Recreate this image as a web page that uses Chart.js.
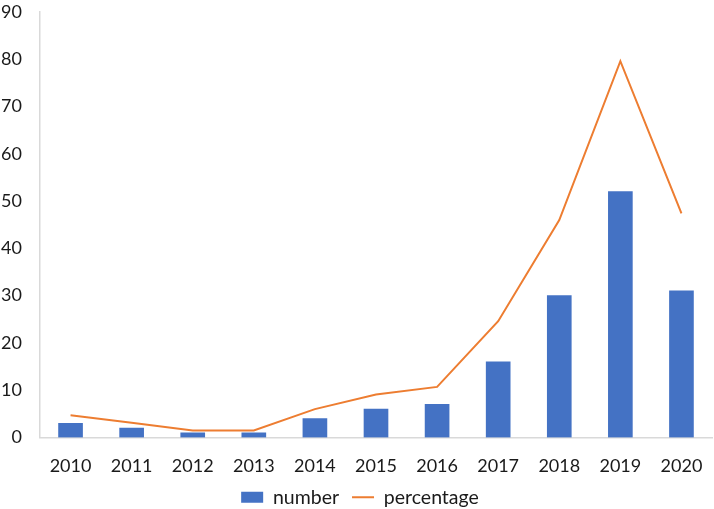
<!DOCTYPE html>
<html>
<head>
<meta charset="utf-8">
<script src="https://cdn.jsdelivr.net/npm/chart.js@4"></script>
<style>
  html, body { margin: 0; padding: 0; background: #fff; }
  #wrap { width: 714px; height: 509px; }
</style>
</head>
<body>
<div id="wrap"><canvas id="chart"></canvas></div>
<script>
    // Chart data
    const years = ['2010', '2011', '2012', '2013', '2014', '2015', '2016', '2017', '2018', '2019', '2020'];
    const numberValues = [3, 2, 1, 1, 4, 6, 7, 16, 30, 52, 31];
    const percentageValues = [4.7, 3.1, 1.5, 1.5, 6.0, 9.1, 10.7, 24.6, 46.0, 79.6, 47.4];
    const yTicks = [0, 10, 20, 30, 40, 50, 60, 70, 80, 90];

    const axisGrey = '#d9d9d9';
    const textColor = '#1a1a1a';

    Chart.defaults.font.family = 'Lato, "Noto Sans", sans-serif';
    Chart.defaults.font.size = 18;
    Chart.defaults.color = textColor;

    const ctx = document.getElementById('chart').getContext('2d');
    const chart = new Chart(ctx, {
        type: 'bar',
        data: {
            labels: years,
            datasets: [
                {
                    type: 'bar',
                    label: 'number',
                    data: numberValues,
                    backgroundColor: '#4472C4',
                    barThickness: 24,
                    pointStyle: 'rect',
                    order: 2
                },
                {
                    type: 'line',
                    label: 'percentage',
                    data: percentageValues,
                    borderColor: '#ED7D31',
                    backgroundColor: '#ED7D31',
                    borderWidth: 2,
                    pointRadius: 0,
                    pointStyle: 'line',
                    tension: 0,
                    order: 1
                }
            ]
        },
        options: {
            responsive: true,
            maintainAspectRatio: false,
            animation: false,
            layout: { padding: { top: 0, right: -6, left: 0, bottom: -8 } },
            plugins: {
                tooltip: { enabled: false },
                legend: {
                    position: 'bottom',
                    labels: {
                        usePointStyle: true,
                        pointStyleWidth: 22,
                        boxHeight: 11,
                        padding: 13,
                        font: { size: 19.5 },
                        generateLabels: function(c) {
                            return c.data.datasets.map((ds, i) => ({
                                text: ds.label,
                                fillStyle: ds.backgroundColor,
                                strokeStyle: ds.type === 'line' ? ds.borderColor : ds.backgroundColor,
                                lineWidth: ds.type === 'line' ? 2 : 0,
                                pointStyle: ds.pointStyle,
                                fontColor: textColor,
                                datasetIndex: i
                            }));
                        }
                    }
                }
            },
            scales: {
                x: {
                    grid: { display: false, drawTicks: false },
                    border: { color: axisGrey, width: 1.5 },
                    ticks: { padding: 18, maxRotation: 0 },
                    afterFit: function(axis) {
                        axis.height = 37;
                        axis.paddingRight = 2;
                    }
                },
                y: {
                    min: 0,
                    max: 90,
                    afterBuildTicks: function(axis) {
                        axis.ticks = yTicks.map(v => ({ value: v }));
                    },
                    afterFit: function(axis) {
                        axis.width = 40;
                        axis.paddingTop = 12;
                        axis.paddingBottom = 0;
                    },
                    grid: { display: false, drawTicks: false },
                    border: { color: axisGrey, width: 1.5 },
                    ticks: { padding: 18 }
                }
            }
        }
    });
</script>
</body>
</html>
